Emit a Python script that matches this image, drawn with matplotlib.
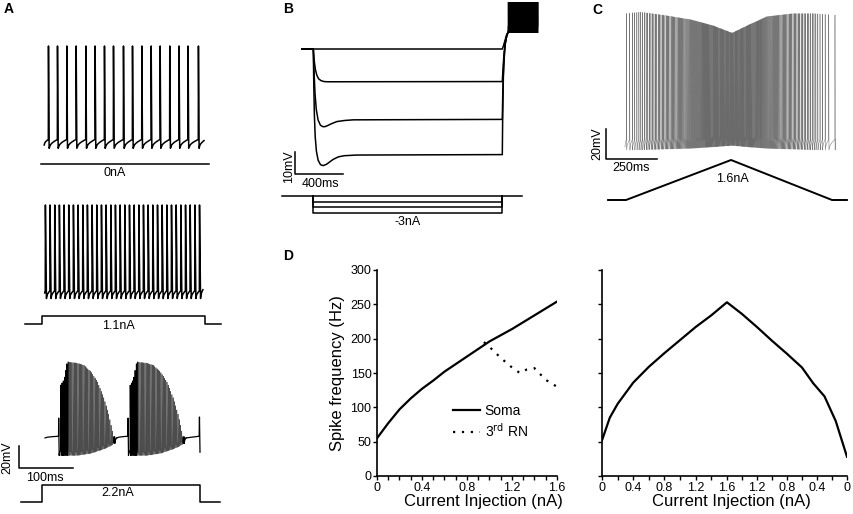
import numpy as np
import matplotlib
matplotlib.use('Agg')
import matplotlib.pyplot as plt

plt.rcParams['font.family'] = ['Liberation Sans', 'DejaVu Sans']

W, H = 854, 514

# ---- panel A: spike times (ms from step onset) ----
A1_SPIKES = [11.7, 28.4, 45.7, 63.0, 80.9, 98.1, 115.4, 132.1, 150.6, 167.3,
             184.6, 201.9, 218.5, 236.3, 253.5, 270.2, 289.4]
A2_SPIKES = [6, 14.6, 23.3, 31.9, 40.6, 49.2, 57.9, 66.5, 75.2, 83.8, 92.5,
             101.1, 109.8, 118.4, 127.1, 135.7, 144.4, 153.0, 161.7, 170.3,
             179.0, 187.6, 196.3, 204.9, 213.6, 222.2, 230.9, 239.5, 248.2,
             256.8, 265.5, 274.1, 282.8, 291.4]
A3_ONSETS = [30.6, 159]
A3_BURST_STARTS = [34.5, 163]
A3_BURST_N = 45
A3_ENV_DT = [0, 6, 12, 30, 43, 56, 68, 80, 89, 96, 100]
A3_ENV_PEAK = [9, 14, 30, 29, 27, 21, 12, -3, -18, -34, -44]
A3_ENV_TROUGH = [-55, -55, -55, -55, -54, -53, -51, -49, -47, -45, -42]

A1_STIM_T = [-1, 309]
A1_STIM_I = [0, 0]
A2_STIM_T = [-31, 0, 0, 302, 302, 331]
A2_STIM_I = [0, 0, 1.1, 1.1, 0, 0]
A3_STIM_T = [-38, 0, 0, 293, 293, 330]
A3_STIM_I = [0, 0, 2.2, 2.2, 0, 0]
A_LABELS = ['0nA', '1.1nA', '2.2nA']

# ---- panel B: hyperpolarising steps ----
B_TRACES_T = [
    [-94, 0, 1575, 1585, 1598, 1612, 1622],
    [-94, 0, 8, 18, 30, 45, 65, 90, 120, 1575, 1580, 1588, 1600, 1612, 1622],
    [-94, 0, 6, 14, 25, 40, 60, 80, 97, 120, 150, 195, 260, 333, 1575, 1579, 1586, 1598, 1612, 1622],
    [-94, 0, 4, 9, 16, 26, 40, 60, 83, 110, 135, 165, 210, 260, 362, 1575, 1578, 1584, 1596, 1610, 1622]]
B_TRACES_V = [
    [-60, -60, -60, -58.5, -56, -53.5, -52.5],
    [-60, -60, -65.5, -69.5, -72, -73.6, -74.4, -74.8, -74.9, -74.8, -70, -63, -57, -54, -52.5],
    [-60, -60, -70, -80, -87.5, -92.3, -94.7, -95.3, -95.3, -94.8, -94, -93, -92.5, -92.2, -92,
     -80, -67, -58, -54, -52.5],
    [-60, -60, -76, -90, -100, -106.5, -110.5, -112.6, -113, -112.4, -111.4, -110.2, -109, -108.5, -108.2,
     -108, -92, -72, -59, -54.2, -52.5]]
B_STEPS = [-1, -2, -3]
B_STEP_END = 1575
B_BASE_T = [-261, 1739]
B_BURST_T = [1625, 1870]
B_BURST_N = 60

# ---- panel C: ramp ----
C_ENV_T = [0, 70, 180, 315, 425, 520, 595, 690, 820, 920, 1025]
C_ENV_PEAK = [29, 30, 28, 25, 21, 16, 21, 27, 29, 29, 28]
C_ENV_TROUGH = [-62, -62, -61.5, -61, -60, -59, -60, -61, -61.5, -62, -62]
C_STIM_T = [-88, 0, 515, 1010, 1083]
C_STIM_I = [0, 0, 1.6, 0, 0]
T_UP, T_DOWN = 515, 495

# ---- panel D: f-I curves ----
SOMA_I = [0, 0.1, 0.2, 0.3, 0.4, 0.5, 0.6, 0.7, 0.8, 0.9, 1.0, 1.1, 1.2, 1.3, 1.4, 1.5, 1.6]
SOMA_F = [55, 77, 97, 113, 127, 139, 152, 163, 174, 185, 196, 205, 214, 224, 234, 244, 254]
RN_I = [0.95, 1.0, 1.1, 1.2, 1.27, 1.33, 1.4, 1.5, 1.6]
RN_F = [195, 188, 172, 158, 150, 155, 157, 140, 130]
UP_I = [0, 0.1, 0.2, 0.4, 0.6, 0.8, 1.0, 1.2, 1.4, 1.6]
UP_F = [52, 85, 105, 136, 159, 179, 198, 217, 234, 253]
DOWN_I = [1.6, 1.4, 1.2, 1.0, 0.8, 0.6, 0.45, 0.3, 0.15, 0]
DOWN_F = [253, 236, 217, 197, 178, 158, 135, 116, 80, 28]

fig = plt.figure(figsize=(W / 100, H / 100), dpi=100)


def px_axes(l, t, r, b):
    return fig.add_axes([l / W, 1 - b / H, (r - l) / W, (b - t) / H])


def trace_axes(box, x0, y0, sx, sy):
    # box in pixels, (x0, y0) pixel of data origin, sx/sy pixels per unit
    l, t, r, b = box
    ax = px_axes(l, t, r, b)
    ax.set_xlim((l - x0) / sx, (r - x0) / sx)
    ax.set_ylim((y0 - b) / sy, (y0 - t) / sy)
    ax.axis('off')
    return ax


def spike_trace(times, peaks, troughs, thresh, start, end, rise=0.3, fall=1.5, nseg=6):
    tt, vv = [start[0]], [start[1]]
    pt, pv = start
    frac = np.linspace(0, 1, nseg + 1)[1:]
    for ts, pk, tr, th in zip(times, peaks, troughs, thresh):
        tt.extend(pt + (ts - pt) * frac)
        vv.extend(pv + (th - pv) * np.sqrt(frac))
        tt.extend([ts + rise, ts + fall])
        vv.extend([pk, tr])
        pt, pv = ts + fall, tr
    tt.extend(pt + (end[0] - pt) * frac)
    vv.extend(pv + (end[1] - pv) * np.sqrt(frac))
    return np.array(tt), np.array(vv)


FS = 9


def scale_bar(ax, t, v, dt, dv, ylab, xlab, ypos, xpos):
    ax.plot([t, t, t + dt], [v + dv, v, v], color='k', lw=1.1, clip_on=False)
    ax.text(ypos[0], ypos[1], ylab, rotation=90, ha='center', va='center', fontsize=FS)
    ax.text(xpos[0], xpos[1], xlab, ha='center', va='center', fontsize=FS)


TXT = dict(ha='center', va='center', fontsize=FS)

# ---------------- A ----------------
A_PXMS, A_PXMV, A_PXNA = 0.54, 1.1, 7.7

ax = trace_axes((0, 30, 260, 160), 42, 79, A_PXMS, A_PXMV)
n = len(A1_SPIKES)
t, v = spike_trace(A1_SPIKES, [30] * n, [-63] * n, [-55] * n, (4, -60), (300, -56))
ax.plot(t, v, color='k', lw=1.1)
ax = trace_axes((0, 155, 260, 185), 42, 164, A_PXMS, A_PXNA)
ax.plot(A1_STIM_T, A1_STIM_I, color='k', lw=1.1)
ax.text(135, -1.2, A_LABELS[0], **TXT)

ax = trace_axes((0, 195, 260, 305), 42, 238, A_PXMS, A_PXMV)
n = len(A2_SPIKES)
t, v = spike_trace(A2_SPIKES, [30] * n, [-55] * n, [-48] * n, (5, -50), (298, -47), fall=2.2)
ax.plot(t, v, color='k', lw=1.1)
ax = trace_axes((0, 305, 260, 340), 42, 324, A_PXMS, A_PXNA)
ax.plot(A2_STIM_T, A2_STIM_I, color='k', lw=1.1)
ax.text(141, -0.3, A_LABELS[1], **TXT)

ax = trace_axes((0, 350, 260, 485), 42, 395, A_PXMS, A_PXMV)
seg_start = (5.6, -39)
for k, b0 in enumerate(A3_BURST_STARTS):
    bt = b0 + np.linspace(0, A3_ENV_DT[-1], A3_BURST_N)
    pk = np.interp(bt - b0, A3_ENV_DT, A3_ENV_PEAK)
    tr = np.interp(bt - b0, A3_ENV_DT, A3_ENV_TROUGH)
    # onset spike drawn in black, burst body in grey (dense spikes)
    t, v = spike_trace([A3_ONSETS[k]], [-21], [A3_ENV_TROUGH[0]], [-37.5], seg_start,
                       (b0 - 0.4, A3_ENV_TROUGH[0] + 4), fall=1.2)
    ax.plot(t, v, color='k', lw=0.9)
    end = (bt[-1] + 4, -39)
    t, v = spike_trace(bt, pk, tr, tr + 4, (b0 - 0.4, A3_ENV_TROUGH[0] + 4), end, fall=1.0)
    ax.plot(t, v, color='0.3', lw=0.45)
    ax.plot(t[t < b0 + 14], v[t < b0 + 14], color='k', lw=0.6)
    ax.plot(t[t > bt[-1] - 2], v[t > bt[-1] - 2], color='k', lw=0.9)
    seg_start = end
ax.plot([seg_start[0], 291, 291.6, 292.6], [seg_start[1], -37.5, -20, -52], color='k', lw=0.9)
scale_bar(ax, -42.6, -66.4, 100, 20, '20mV', '100ms', (-64.5, -57), (5.6, -75.5))
ax = trace_axes((0, 480, 260, 514), 42, 502, A_PXMS, A_PXNA)
ax.plot(A3_STIM_T, A3_STIM_I, color='k', lw=1.1)
ax.text(141, 1.17, A_LABELS[2], **TXT)

# ---------------- B ----------------
B_PXMS, B_PXMV, B_PXNA = 0.12, 2.2, 5.6
ax = trace_axes((275, 2, 545, 190), 313.3, -83, B_PXMS, B_PXMV)
for tt, vv in zip(B_TRACES_T, B_TRACES_V):
    ax.plot(tt, vv, color='k', lw=1.1)
bt = np.linspace(B_BURST_T[0], B_BURST_T[1], B_BURST_N)
nb = len(bt)
t, v = spike_trace(bt, [20] * nb, [-52.5] * nb, [-49] * nb, (1622, -52.5), (1872, -52.5))
ax.plot(t, v, color='k', lw=0.8)
scale_bar(ax, -152.5, -116.8, 400, 10, '10mV', '400ms', (-205, -113.5), (56, -121.4))

ax = trace_axes((275, 185, 545, 235), 313.3, 196, B_PXMS, B_PXNA)
ax.plot(B_BASE_T, [0, 0], color='k', lw=1.1)
for s in B_STEPS:
    ax.plot([0, 0, B_STEP_END, B_STEP_END], [0, s, s, 0], color='k', lw=1.1)
ax.text(789, -4.6, '-3nA', **TXT)

# ---------------- C ----------------
C_PXMS, C_PXMV, C_PXNA = 0.204, 1.5, 25
rate_t = np.concatenate([np.array(UP_I) / 1.6 * T_UP,
                         T_UP + (1.6 - np.array(DOWN_I[1:])) / 1.6 * T_DOWN])
rate_f = np.concatenate([UP_F, DOWN_F[1:]])
grid = np.arange(0, C_ENV_T[-1], 0.1)
phase = 0.9 + np.cumsum(np.interp(grid, rate_t, rate_f)) * 0.1 / 1000
idx = np.nonzero(np.diff(np.floor(phase)) > 0)[0]
ct = grid[idx + 1]
cp = np.interp(ct, C_ENV_T, C_ENV_PEAK)
ctr = np.interp(ct, C_ENV_T, C_ENV_TROUGH)
ax = trace_axes((585, 3, 854, 180), 626, 57, C_PXMS, C_PXMV)
t, v = spike_trace(ct, cp, ctr, ctr + 7, (-5, -60), (1025, -55), fall=1.2)
ax.plot(t, v, color='0.42', lw=0.33)
scale_bar(ax, -98, -68, 250, 20, '20mV', '250ms', (-142, -58), (25, -74))

ax = trace_axes((585, 150, 854, 214), 626, 200, C_PXMS, C_PXNA)
ax.plot(C_STIM_T, C_STIM_I, color='k', lw=1.4)
ax.text(520, 0.85, '1.6nA', **TXT)

# ---------------- D ----------------
def style_axes(ax):
    for side in ['top', 'right']:
        ax.spines[side].set_visible(False)
    for side in ['left', 'bottom']:
        ax.spines[side].set_linewidth(1.2)
    ax.tick_params(which='both', direction='out', length=3, width=1, pad=1, labelsize=9)
    ax.set_ylim(0, 300)
    ax.set_yticks(np.arange(0, 301, 50))


axl = px_axes(377, 270, 557, 476)
style_axes(axl)
axl.plot(SOMA_I, SOMA_F, color='k', lw=1.6, label='Soma')
axl.plot(RN_I, RN_F, color='k', lw=1.6, linestyle=(0, (1, 3)), label='3$^{\\mathrm{rd}}$ RN')
axl.set_xlim(0, 1.6)
axl.set_xticks([0, 0.4, 0.8, 1.2, 1.6])
axl.set_xticklabels(['0', '0.4', '0.8', '1.2', '1.6'])
axl.set_xticks(np.arange(0, 1.61, 0.1), minor=True)
axl.set_xlabel('Current Injection (nA)', fontsize=12, labelpad=0)
axl.xaxis.set_label_coords(0.59, -0.087)
axl.set_ylabel('Spike frequency (Hz)', fontsize=12, labelpad=4)
axl.legend(loc='upper left', bbox_to_anchor=(0.42, 0.35), frameon=False, fontsize=10,
           handlelength=2.0, handletextpad=0.3, borderpad=0, borderaxespad=0, labelspacing=0.3)

axr = px_axes(602, 270, 847, 476)
style_axes(axr)
up_t = np.array(UP_I) / 1.6 * T_UP
down_t = T_UP + (1.6 - np.array(DOWN_I)) / 1.6 * T_DOWN
axr.plot(np.concatenate([up_t, down_t[1:]]), np.concatenate([UP_F, DOWN_F[1:]]), color='k', lw=1.6)
axr.set_xlim(0, T_UP + T_DOWN)
major_I = [0, 0.4, 0.8, 1.2, 1.6, 1.2, 0.8, 0.4, 0]
major_t = [i / 1.6 * T_UP for i in major_I[:5]] + [T_UP + (1.6 - i) / 1.6 * T_DOWN for i in major_I[5:]]
axr.set_xticks(major_t)
axr.set_xticklabels([('%g' % i) for i in major_I])
minor_t = [i / 1.6 * T_UP for i in [0.2, 0.6, 1.0, 1.4]] + [T_UP + (1.6 - i) / 1.6 * T_DOWN for i in [1.4, 1.0, 0.6, 0.2]]
axr.set_xticks(minor_t, minor=True)
axr.set_yticklabels([])
axr.set_xlabel('Current Injection (nA)', fontsize=12, labelpad=0)
axr.xaxis.set_label_coords(0.53, -0.087)

for lab, x, y in [('A', 8.7, 8.7), ('B', 288, 8.7), ('C', 597, 9.5), ('D', 288, 256)]:
    fig.text(x / W, 1 - y / H, lab, fontsize=10, fontweight='bold', ha='center', va='center')

fig.savefig('out.png', dpi=100, facecolor='white')
